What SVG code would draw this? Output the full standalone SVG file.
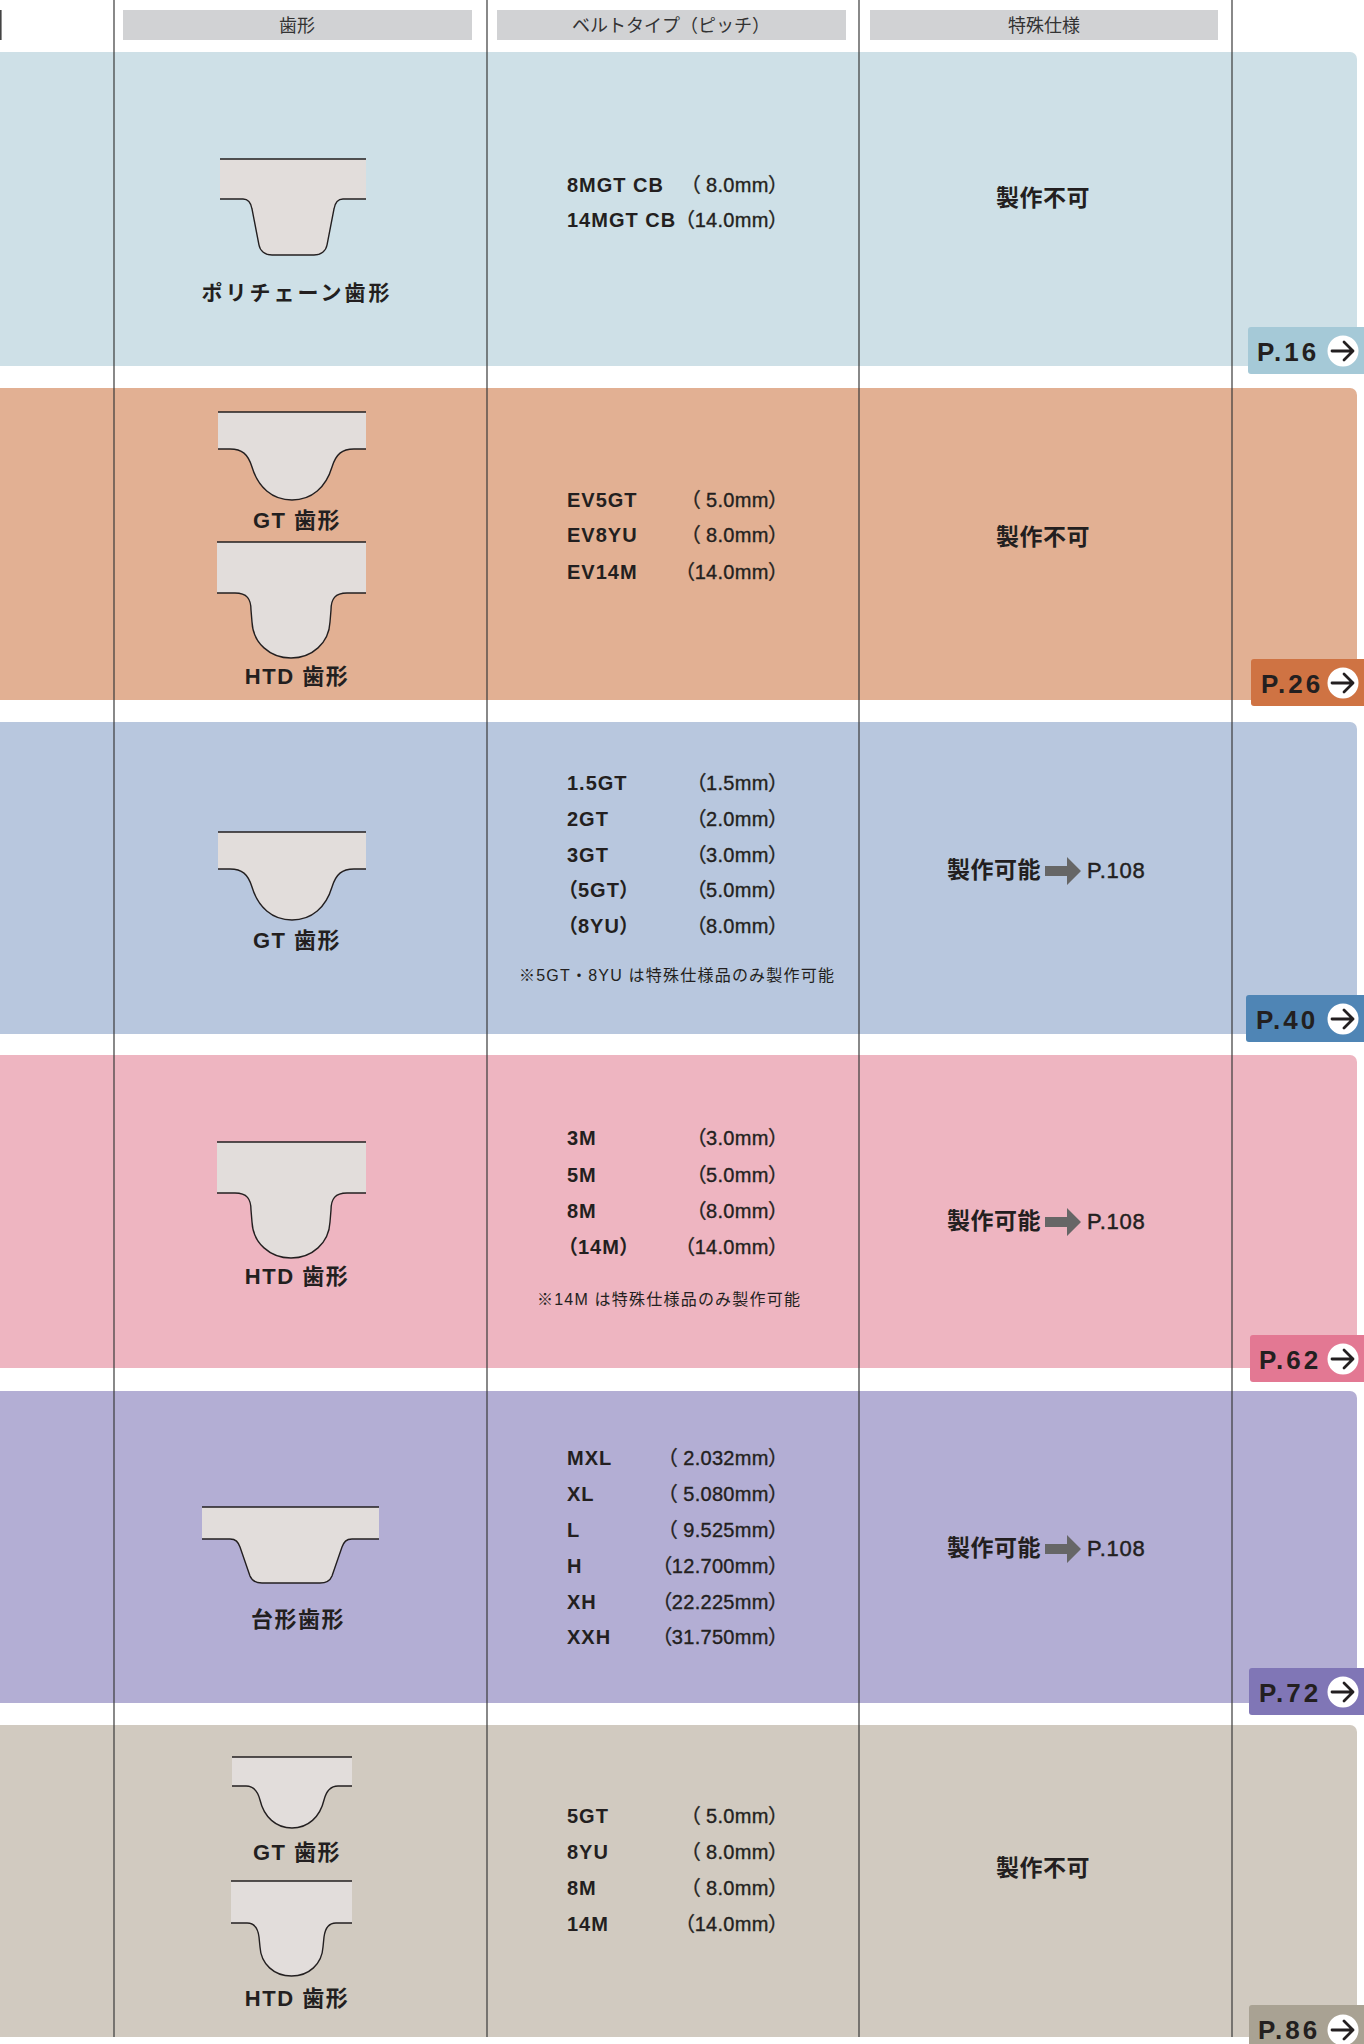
<svg xmlns="http://www.w3.org/2000/svg" width="1364" height="2044" viewBox="0 0 1364 2044">
<style>
.band{stroke:none}
.hdr{fill:#d1d2d4}
.hdrt{font-family:"Noto Sans CJK JP","Liberation Sans",sans-serif;font-size:18px;fill:#333;text-anchor:middle}
.col{stroke:#3a3a3a;stroke-width:1.2;fill:none}
.tooth{fill:#e2dddb;stroke:none}
.edge{fill:none;stroke:#231f20;stroke-width:1.4}
.lbl{font-family:"Liberation Sans","Noto Sans CJK JP",sans-serif;font-weight:bold;font-size:22px;fill:#231f20;text-anchor:middle;letter-spacing:1.5px}
.code{font-family:"Liberation Sans","Noto Sans CJK JP",sans-serif;font-weight:bold;font-size:20px;fill:#231f20;letter-spacing:1px;font-feature-settings:"palt"}
.pitch{font-family:"Liberation Sans","Noto Sans CJK JP",sans-serif;font-size:20px;fill:#231f20;stroke:#231f20;stroke-width:0.35;text-anchor:end;letter-spacing:0.3px;font-feature-settings:"palt"}
.note{font-family:"Liberation Sans","Noto Sans CJK JP",sans-serif;font-size:16px;fill:#231f20}
.spec{font-family:"Noto Sans CJK JP",sans-serif;font-weight:bold;font-size:23px;fill:#231f20;letter-spacing:0.5px}
.ref{font-family:"Liberation Sans",sans-serif;font-size:22px;fill:#231f20;stroke:#231f20;stroke-width:0.45;letter-spacing:0.8px}
.arr{fill:#666}
.tabt{font-family:"Liberation Sans",sans-serif;font-weight:bold;font-size:26px;fill:#231f20;letter-spacing:3px}
.circ{fill:#fff}
.tarr{fill:none;stroke:#231f20;stroke-width:2.8;stroke-linecap:round;stroke-linejoin:round}
</style>
<defs>
<path id="gtFill" d="M0,0 H148 V37 H136 C124,37 118,42 114,55 C108,75 94,88 74,88 C54,88 40,75 34,55 C30,42 24,37 12,37 H0 Z"/>
<path id="gtEdge" d="M0,0 H148 M0,37 H12 C24,37 30,42 34,55 C40,75 54,88 74,88 C94,88 108,75 114,55 C118,42 124,37 136,37 H148"/>
<path id="htdFill" d="M0,0 H149 V51 H130 C118,51 114,57 114,68 L113,80 C112,101 95,116 74,116 C53,116 36,101 35,80 L34,68 C34,57 30,51 18,51 H0 Z"/>
<path id="htdEdge" d="M0,0 H149 M0,51 H18 C30,51 34,57 34,68 L35,80 C36,101 53,116 74,116 C95,116 112,101 113,80 L114,68 C114,57 118,51 130,51 H149"/>
<path id="sgtFill" d="M0,0 H120 V29 H106 C98,29 94,35 92,43 C88,60 76,71 60,71 C44,71 32,60 28,43 C26,35 22,29 14,29 H0 Z"/>
<path id="sgtEdge" d="M0,0 H120 M0,29 H14 C22,29 26,35 28,43 C32,60 44,71 60,71 C76,71 88,60 92,43 C94,35 98,29 106,29 H120"/>
<path id="shtdFill" d="M0,0 H121 V42 H105 C97,42 94,48 93,56 L92,66 C91,83 78,95 60.5,95 C43,95 30,83 29,66 L28,56 C27,48 24,42 16,42 H0 Z"/>
<path id="shtdEdge" d="M0,0 H121 M0,42 H16 C24,42 27,48 28,56 L29,66 C30,83 43,95 60.5,95 C78,95 91,83 92,66 L93,56 C94,48 97,42 105,42 H121"/>
<g id="tabArrow"><circle class="circ" cx="0" cy="0" r="15.5"/><path class="tarr" d="M-11,0 H10 M1,-9 L10,0 L1,9"/></g>
<path id="bigArrow" d="M0,-5 H22 V-14 L36,0 L22,14 V5 H0 Z"/>
</defs>
<rect width="1364" height="2044" fill="#fff"/>

<!-- bands -->
<g id="bands">
<rect class="band" x="-10" y="52" width="1367" height="314" rx="7" fill="#cee0e7"/>
<rect class="band" x="-10" y="388" width="1367" height="312" rx="7" fill="#e2b093"/>
<rect class="band" x="-10" y="722" width="1367" height="312" rx="7" fill="#b8c7de"/>
<rect class="band" x="-10" y="1055" width="1367" height="313" rx="7" fill="#eeb5c1"/>
<rect class="band" x="-10" y="1391" width="1367" height="312" rx="7" fill="#b3aed4"/>
<rect class="band" x="-10" y="1725" width="1367" height="312" rx="7" fill="#d1cac0"/>
</g>

<!-- header -->
<g id="header">
<rect x="0" y="10" width="1.6" height="30" fill="#444"/>
<rect class="hdr" x="123" y="10" width="349" height="30"/>
<rect class="hdr" x="497" y="10" width="349" height="30"/>
<rect class="hdr" x="870" y="10" width="348" height="30"/>
<text class="hdrt" x="297" y="32">歯形</text>
<text class="hdrt" x="671" y="32">ベルトタイプ（ピッチ）</text>
<text class="hdrt" x="1044" y="32">特殊仕様</text>
</g>

<!-- column lines -->
<g id="connectors">
<line class="col" x1="114" y1="0" x2="114" y2="2037"/>
<line class="col" x1="487" y1="0" x2="487" y2="2037"/>
<line class="col" x1="859" y1="0" x2="859" y2="2037"/>
<line class="col" x1="1232" y1="0" x2="1232" y2="2037"/>
</g>

<!-- row 1 -->
<g id="row1">
<g transform="translate(220,159)">
<path class="tooth" d="M0,0 H146 V40 H123 C117,40 115,44 114,50 L107,86 C106,92 101,96 94,96 H52 C45,96 40,92 39,86 L32,50 C31,44 29,40 23,40 H0 Z"/>
<path class="edge" d="M0,0 H146 M0,40 H23 C29,40 31,44 32,50 L39,86 C40,92 45,96 52,96 H94 C101,96 106,92 107,86 L114,50 C115,44 117,40 123,40 H146"/>
</g>
<text class="lbl" x="297" y="300" style="font-size:21px;letter-spacing:3px">ポリチェーン歯形</text>
<text class="code" x="567" y="192">8MGT CB</text><text class="pitch" x="779" y="192">（ 8.0mm）</text>
<text class="code" x="567" y="227">14MGT CB</text><text class="pitch" x="779" y="227">（14.0mm）</text>
<text class="spec" x="1043" y="206" text-anchor="middle">製作不可</text>
<rect x="1248" y="327" width="130" height="47" rx="3" fill="#a5c9d7"/>
<text class="tabt" x="1257" y="361">P.16</text>
<use href="#tabArrow" x="1343" y="351"/>
</g>

<!-- row 2 -->
<g id="row2">
<g transform="translate(218,412)"><use href="#gtFill" class="tooth"/><use href="#gtEdge" class="edge"/></g>
<text class="lbl" x="297" y="528">GT 歯形</text>
<g transform="translate(217,542)"><use href="#htdFill" class="tooth"/><use href="#htdEdge" class="edge"/></g>
<text class="lbl" x="297" y="684">HTD 歯形</text>
<text class="code" x="567" y="507">EV5GT</text><text class="pitch" x="779" y="507">（ 5.0mm）</text>
<text class="code" x="567" y="542">EV8YU</text><text class="pitch" x="779" y="542">（ 8.0mm）</text>
<text class="code" x="567" y="579">EV14M</text><text class="pitch" x="779" y="579">（14.0mm）</text>
<text class="spec" x="1043" y="545" text-anchor="middle">製作不可</text>
<rect x="1251" y="659" width="130" height="47" rx="3" fill="#cf7343"/>
<text class="tabt" x="1261" y="693">P.26</text>
<use href="#tabArrow" x="1343" y="683"/>
</g>

<!-- row 3 -->
<g id="row3">
<g transform="translate(218,832)"><use href="#gtFill" class="tooth"/><use href="#gtEdge" class="edge"/></g>
<text class="lbl" x="297" y="948">GT 歯形</text>
<text class="code" x="567" y="790">1.5GT</text><text class="pitch" x="779" y="790">（1.5mm）</text>
<text class="code" x="567" y="826">2GT</text><text class="pitch" x="779" y="826">（2.0mm）</text>
<text class="code" x="567" y="862">3GT</text><text class="pitch" x="779" y="862">（3.0mm）</text>
<text class="code" x="567" y="897">（5GT）</text><text class="pitch" x="779" y="897">（5.0mm）</text>
<text class="code" x="567" y="933">（8YU）</text><text class="pitch" x="779" y="933">（8.0mm）</text>
<text class="note" x="519" y="981" textLength="315" lengthAdjust="spacing">※5GT・8YU は特殊仕様品のみ製作可能</text>
<text class="spec" x="947" y="878">製作可能</text>
<use href="#bigArrow" class="arr" x="1045" y="871"/>
<text class="ref" x="1087" y="878">P.108</text>
<rect x="1246" y="995" width="130" height="47" rx="3" fill="#4f85b5"/>
<text class="tabt" x="1256" y="1029">P.40</text>
<use href="#tabArrow" x="1343" y="1019"/>
</g>

<!-- row 4 -->
<g id="row4">
<g transform="translate(217,1142)"><use href="#htdFill" class="tooth"/><use href="#htdEdge" class="edge"/></g>
<text class="lbl" x="297" y="1284">HTD 歯形</text>
<text class="code" x="567" y="1145">3M</text><text class="pitch" x="779" y="1145">（3.0mm）</text>
<text class="code" x="567" y="1182">5M</text><text class="pitch" x="779" y="1182">（5.0mm）</text>
<text class="code" x="567" y="1218">8M</text><text class="pitch" x="779" y="1218">（8.0mm）</text>
<text class="code" x="567" y="1254">（14M）</text><text class="pitch" x="779" y="1254">（14.0mm）</text>
<text class="note" x="537" y="1305" textLength="263" lengthAdjust="spacing">※14M は特殊仕様品のみ製作可能</text>
<text class="spec" x="947" y="1229">製作可能</text>
<use href="#bigArrow" class="arr" x="1045" y="1222"/>
<text class="ref" x="1087" y="1229">P.108</text>
<rect x="1250" y="1335" width="130" height="47" rx="3" fill="#e37893"/>
<text class="tabt" x="1259" y="1369">P.62</text>
<use href="#tabArrow" x="1343" y="1359"/>
</g>

<!-- row 5 -->
<g id="row5">
<g transform="translate(202,1507)">
<path class="tooth" d="M0,0 H177 V32 H150 C144,32 142,35 140,40 L130,69 C128,74 124,76 118,76 H60 C54,76 50,74 48,69 L38,40 C36,35 34,32 28,32 H0 Z"/>
<path class="edge" d="M0,0 H177 M0,32 H28 C34,32 36,35 38,40 L48,69 C50,74 54,76 60,76 H118 C124,76 128,74 130,69 L140,40 C142,35 144,32 150,32 H177"/>
</g>
<text class="lbl" x="298" y="1627" style="letter-spacing:1.5px">台形歯形</text>
<text class="code" x="567" y="1465">MXL</text><text class="pitch" x="779" y="1465">（ 2.032mm）</text>
<text class="code" x="567" y="1501">XL</text><text class="pitch" x="779" y="1501">（ 5.080mm）</text>
<text class="code" x="567" y="1537">L</text><text class="pitch" x="779" y="1537">（ 9.525mm）</text>
<text class="code" x="567" y="1573">H</text><text class="pitch" x="779" y="1573">（12.700mm）</text>
<text class="code" x="567" y="1609">XH</text><text class="pitch" x="779" y="1609">（22.225mm）</text>
<text class="code" x="567" y="1644">XXH</text><text class="pitch" x="779" y="1644">（31.750mm）</text>
<text class="spec" x="947" y="1556">製作可能</text>
<use href="#bigArrow" class="arr" x="1045" y="1549"/>
<text class="ref" x="1087" y="1556">P.108</text>
<rect x="1249" y="1668" width="130" height="47" rx="3" fill="#8076b6"/>
<text class="tabt" x="1259" y="1702">P.72</text>
<use href="#tabArrow" x="1343" y="1692"/>
</g>

<!-- row 6 -->
<g id="row6">
<g transform="translate(232,1757)"><use href="#sgtFill" class="tooth"/><use href="#sgtEdge" class="edge"/></g>
<text class="lbl" x="297" y="1860">GT 歯形</text>
<g transform="translate(231,1881)"><use href="#shtdFill" class="tooth"/><use href="#shtdEdge" class="edge"/></g>
<text class="lbl" x="297" y="2006">HTD 歯形</text>
<text class="code" x="567" y="1823">5GT</text><text class="pitch" x="779" y="1823">（ 5.0mm）</text>
<text class="code" x="567" y="1859">8YU</text><text class="pitch" x="779" y="1859">（ 8.0mm）</text>
<text class="code" x="567" y="1895">8M</text><text class="pitch" x="779" y="1895">（ 8.0mm）</text>
<text class="code" x="567" y="1931">14M</text><text class="pitch" x="779" y="1931">（14.0mm）</text>
<text class="spec" x="1043" y="1876" text-anchor="middle">製作不可</text>
<rect x="1249" y="2005" width="130" height="47" rx="3" fill="#a9a293"/>
<text class="tabt" x="1258" y="2039">P.86</text>
<use href="#tabArrow" x="1343" y="2030"/>
</g>
</svg>
